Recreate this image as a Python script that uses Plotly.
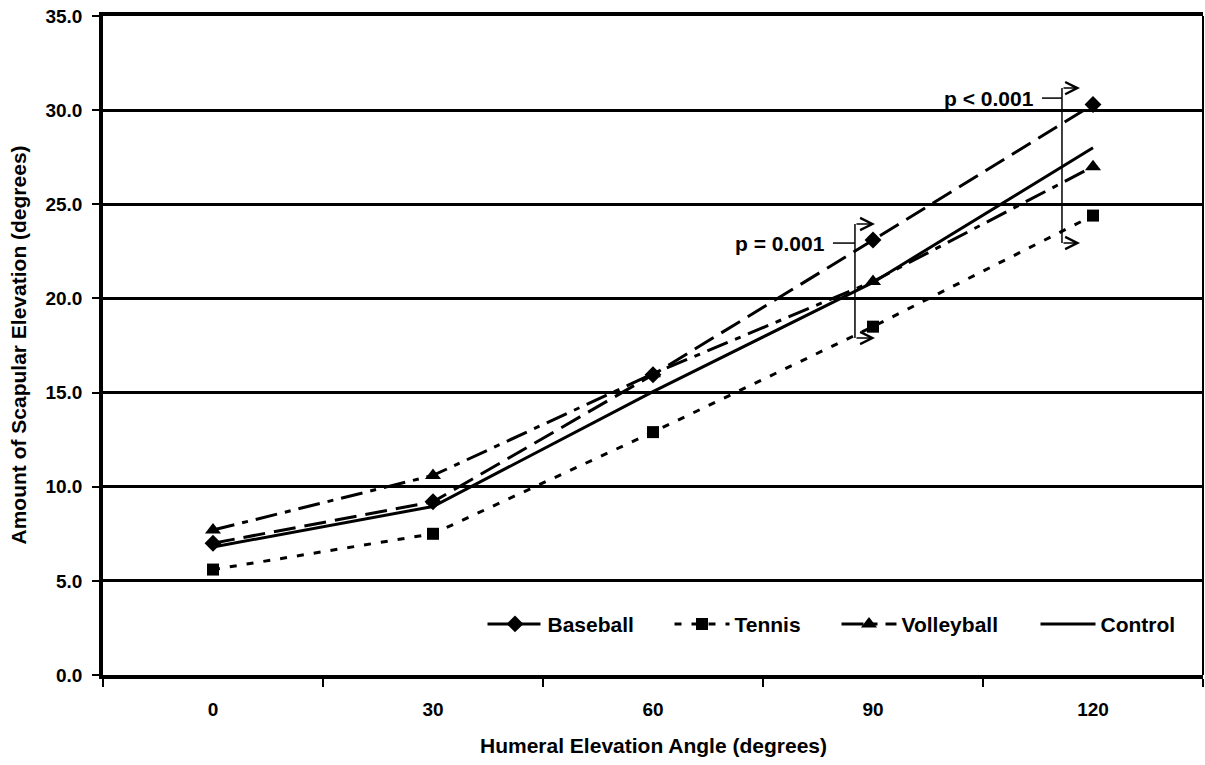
import plotly.graph_objects as go

categories = ["0", "30", "60", "90", "120"]
baseball = [7.0, 9.2, 15.95, 23.1, 30.3]
tennis = [5.6, 7.5, 12.9, 18.5, 24.4]
volleyball = [7.7, 10.6, 16.0, 20.9, 27.0]
control = [6.8, 8.95, 15.05, 20.85, 28.0]
y_ticks = [0, 5, 10, 15, 20, 25, 30, 35]
x_title = "Humeral Elevation Angle (degrees)"
y_title = "Amount of Scapular Elevation (degrees)"

FONT = "Liberation Sans"
TITLE_FONT = dict(family=FONT, size=21, color="black", weight="bold")

fig = go.Figure()
fig.add_trace(go.Scatter(x=categories, y=baseball, name="Baseball", mode="lines+markers",
                         legendwidth=117,
                         line=dict(color="black", width=3, dash="22px,9px"),
                         marker=dict(symbol="diamond", size=13, color="black")))
fig.add_trace(go.Scatter(x=categories, y=tennis, name="Tennis", mode="lines+markers",
                         legendwidth=97,
                         line=dict(color="black", width=3, dash="7px,10px"),
                         marker=dict(symbol="square", size=12, color="black")))
fig.add_trace(go.Scatter(x=categories, y=volleyball, name="Volleyball", mode="lines+markers",
                         legendwidth=129,
                         line=dict(color="black", width=3, dash="22px,8px,6px,8px"),
                         marker=dict(symbol="triangle-up", size=14, color="black")))
fig.add_trace(go.Scatter(x=categories, y=control, name="Control", mode="lines",
                         legendwidth=78,
                         line=dict(color="black", width=3)))

# significance brackets
brackets = [
    dict(x=2.918, y_top=23.95, y_bot=17.9, tick_y=22.94, tick_x0=2.818, head_x=3.009,
         text="p = 0.001", text_x=2.79),
    dict(x=3.859, y_top=31.17, y_bot=22.94, tick_y=30.64, tick_x0=3.768, head_x=3.941,
         text="p < 0.001", text_x=3.74),
]
for b in brackets:
    fig.add_shape(type="line", xref="x", yref="y", x0=b["x"], x1=b["x"], y0=b["y_bot"], y1=b["y_top"],
                  line=dict(color="black", width=1.5))
    fig.add_shape(type="line", xref="x", yref="y", x0=b["tick_x0"], x1=b["x"], y0=b["tick_y"], y1=b["tick_y"],
                  line=dict(color="black", width=1.5))
    for yy in (b["y_top"], b["y_bot"]):
        fig.add_annotation(x=b["head_x"], y=yy, ax=b["x"], ay=yy, xref="x", yref="y", axref="x", ayref="y",
                           text="", showarrow=True, arrowhead=5, arrowwidth=1.5, arrowsize=1.6,
                           arrowcolor="black", standoff=0)
    fig.add_annotation(x=b["text_x"], y=b["tick_y"], xref="x", yref="y", text=b["text"], showarrow=False,
                       xanchor="right", yanchor="middle",
                       font=dict(family=FONT, size=21, color="black", weight="bold"))

# axis titles
fig.add_annotation(x=0.5, y=0, xref="paper", yref="paper", yshift=-70, text=x_title,
                   showarrow=False, xanchor="center", yanchor="middle", font=TITLE_FONT)
fig.add_annotation(x=0, y=0.5, xref="paper", yref="paper", xshift=-85, text=y_title, textangle=-90,
                   showarrow=False, xanchor="center", yanchor="middle", font=TITLE_FONT)

# right border
fig.add_shape(type="line", xref="paper", yref="paper", x0=1, x1=1, y0=0, y1=1,
              line=dict(color="black", width=2))

fig.update_layout(
    width=1205, height=765,
    margin=dict(l=103, r=2, t=16, b=90, autoexpand=False),
    paper_bgcolor="white", plot_bgcolor="white",
    font=dict(family=FONT, color="black"),
    showlegend=True,
    legend=dict(orientation="h", x=0.345, y=0.077, xanchor="left", yanchor="middle",
                bgcolor="rgba(0,0,0,0)", itemwidth=55,
                font=dict(family=FONT, size=21, color="black", weight="bold")),
    xaxis=dict(type="category", range=[-0.5, 4.5], tickson="boundaries", ticks="outside",
               ticklen=8, tickwidth=2, tickcolor="black", showgrid=False,
               showline=True, linewidth=3.5, linecolor="black", mirror=True,
               tickfont=dict(family=FONT, size=19, color="black", weight="bold"),
               ticklabelstandoff=14),
    yaxis=dict(range=[0, 35], tickvals=y_ticks, tickformat=".1f", ticks="outside",
               ticklen=7, tickwidth=2, tickcolor="black",
               showgrid=True, gridcolor="black", gridwidth=3, zeroline=False,
               showline=True, linewidth=3.5, linecolor="black",
               tickfont=dict(family=FONT, size=19, color="black", weight="bold"),
               ticklabelstandoff=6),
)

fig.write_html("out.html")
